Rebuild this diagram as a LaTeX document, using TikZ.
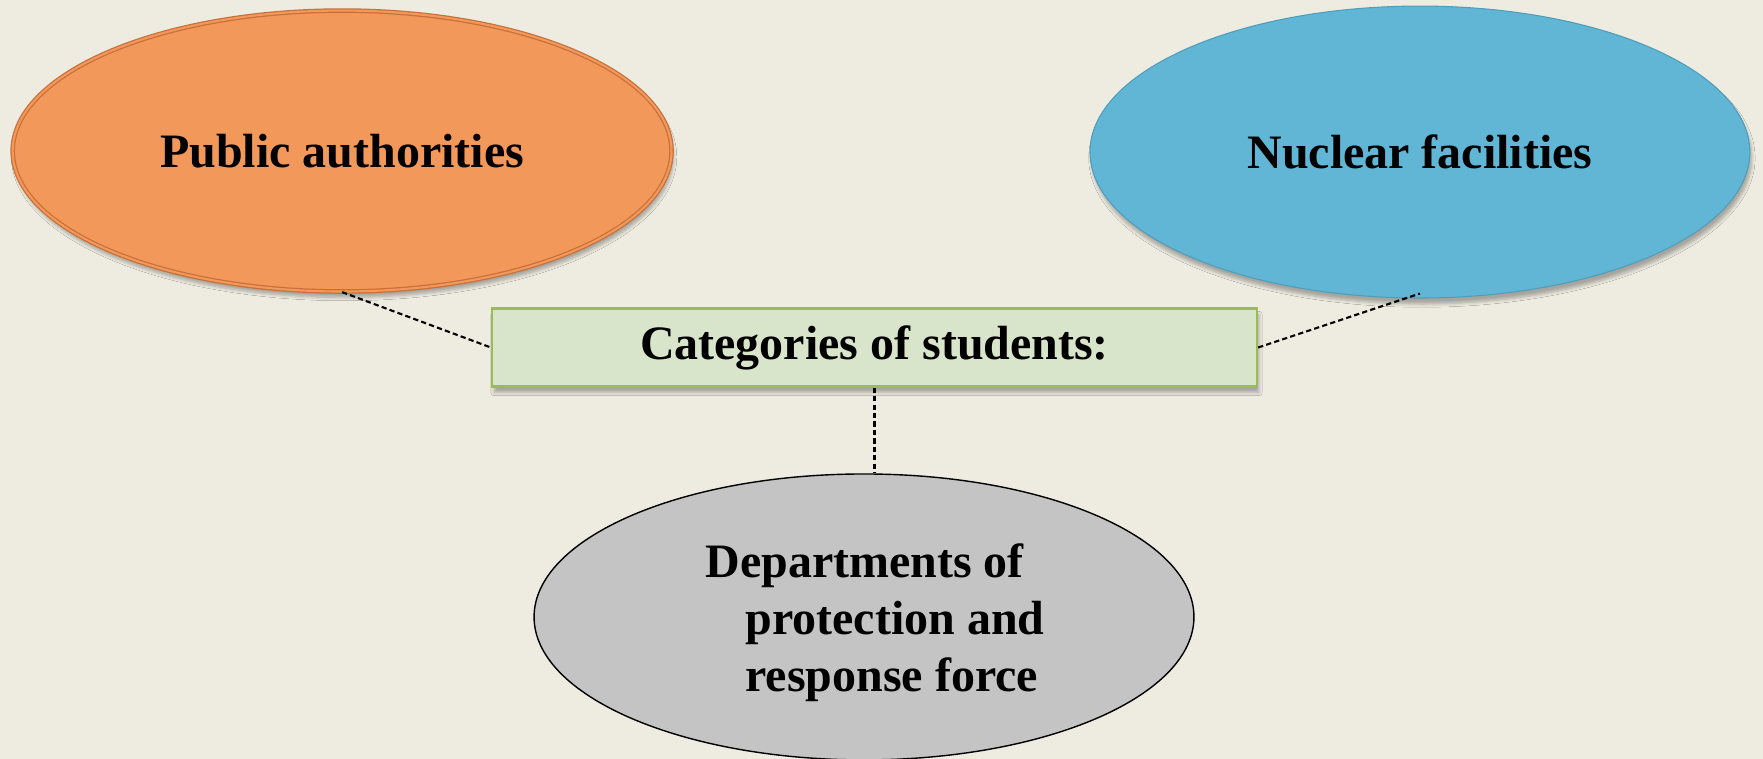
\documentclass[tikz,border=0pt]{standalone}
\usepackage{fontspec}
\setmainfont{Liberation Serif}
\usepackage{tikz}
\usetikzlibrary{positioning, shapes.geometric, shadows.blur}

\definecolor{bgtan}{HTML}{EEECE1}
\definecolor{orangefill}{HTML}{F1985A}
\definecolor{orangeline}{HTML}{C8703A}
\definecolor{bluefill}{HTML}{61B6D5}
\definecolor{blueline}{HTML}{4F9DBB}
\definecolor{catfill}{HTML}{D9E5CB}
\definecolor{catline}{HTML}{9BBB59}
\definecolor{greyfill}{HTML}{C4C4C4}

\begin{document}
\begin{tikzpicture}[x=0.02cm, y=-0.02cm, node distance=4cm, on grid,
    font=\fontsize{27.3pt}{32.4pt}\selectfont\bfseries,
    cloud/.style={ellipse, minimum width=13.2cm, minimum height=5.7cm, inner sep=0pt,
      blur shadow={shadow xshift=0.4mm, shadow yshift=-1.2mm, shadow opacity=30, shadow blur steps=6}},
    catbox/.style={rectangle, draw=catline, line width=1.4pt, fill=catfill,
      minimum width=15.3cm, minimum height=1.56cm,
      blur shadow={shadow xshift=0.4mm, shadow yshift=-1.2mm, shadow opacity=30, shadow blur steps=6}},
    link/.style={draw=black, line width=1.2pt, dash pattern=on 3pt off 1.8pt}]
  \fill[bgtan] (0,0) rectangle (1763,759);
  \useasboundingbox (0,0) rectangle (1763,759);

  \node[catbox] (cat) at (874.5,347.5) {Categories of students:};
  \node[cloud, fill=orangefill, draw=orangeline, line width=0.7pt,
        double=orangefill, double distance=1.2pt,
        minimum width=13.18cm, minimum height=5.62cm]
        (pub) [above left=3.93cm and 10.65cm of cat] {Public authorities};
  \node[cloud, fill=bluefill, draw=blueline, line width=0.6pt,
        minimum height=5.84cm]
        (nuc) [above right=3.91cm and 10.91cm of cat] {Nuclear facilities};
  \node[ellipse, fill=greyfill, draw=black, line width=0.8pt, inner sep=0pt,
        minimum width=13.2cm, minimum height=5.72cm]
        (dep) [below left=5.39cm and 0.21cm of cat] {};
  \node[align=left, inner sep=0pt] (deptext) at ([xshift=0.22cm, yshift=-0.12cm]dep.center)
        {Departments of\\\hspace*{0.8cm}protection and\\\hspace*{0.8cm}response force};

  \path[link]
        (pub.south) edge (cat.west)
        (cat.east)  edge ([yshift=1mm]nuc.south)
        (cat.south) edge (cat.south |- dep.north);
\end{tikzpicture}
\end{document}
